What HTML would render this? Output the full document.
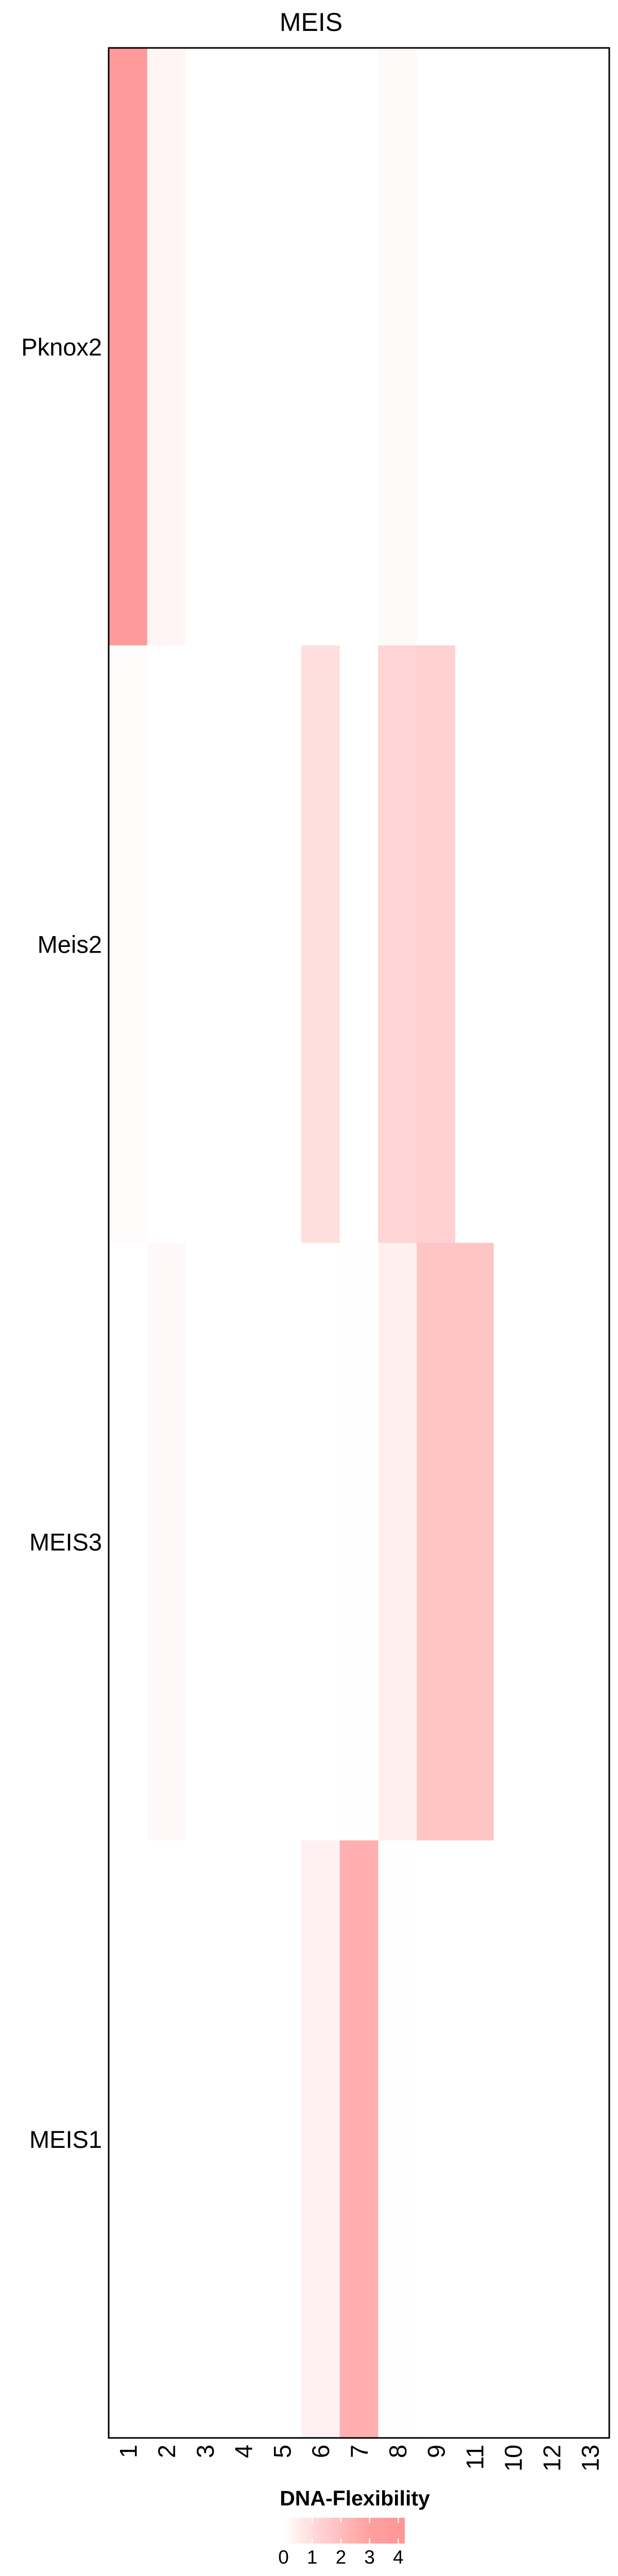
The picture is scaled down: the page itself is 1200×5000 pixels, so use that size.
<!DOCTYPE html>
<html><head><meta charset="utf-8"><style>
html,body{margin:0;padding:0;background:#fff;}
svg{display:block;font-family:"Liberation Sans",sans-serif;}
</style></head><body>
<svg id="chart" width="1200" height="5000" viewBox="0 0 1200 5000" xmlns="http://www.w3.org/2000/svg">
<defs>
<linearGradient id="cbar" x1="0" x2="1" y1="0" y2="0">
<stop offset="0" stop-color="#ffffff"/>
<stop offset="0.23" stop-color="#ffdcdc"/>
<stop offset="0.47" stop-color="#ffbdbd"/>
<stop offset="0.71" stop-color="#ffa0a0"/>
<stop offset="1" stop-color="#ff9696"/>
</linearGradient>
</defs>
<text x="604" y="60" font-size="50" text-anchor="middle" fill="#000">MEIS</text>
<g id="cells"></g>
<g id="ylabels"></g>
<g id="xlabels"></g>
<rect x="211" y="93" width="972" height="4639" fill="none" stroke="#000" stroke-width="3"/>
<g>
<text x="689" y="4863" font-size="41" font-weight="bold" text-anchor="middle">DNA-Flexibility</text>
<rect x="552" y="4887" width="234" height="50" fill="url(#cbar)"/>
<g id="legendticks"></g>
</g>
</svg>
<script>
const columns = ["1","2","3","4","5","6","7","8","9","11","10","12","13"];
const rows = ["Pknox2","Meis2","MEIS3","MEIS1"];
const valPknox2 = [3.7,0.3,0,0,0,0,0,0.15,0,0,0,0,0];
const valMeis2  = [0.12,0,0,0,0,1.0,0,1.3,1.45,0,0,0,0];
const valMEIS3  = [0,0.2,0,0,0,0,0.03,0.45,1.8,1.8,0,0,0];
const valMEIS1  = [0,0,0,0,0,0.42,2.5,0.02,0,0,0,0,0];
const legendTicks = [0,1,2,3,4];

const NS="http://www.w3.org/2000/svg";
const X0=211,X1=1183,Y0=93,Y1=4732;
const cw=(X1-X0)/columns.length, rh=(Y1-Y0)/rows.length;
function xPos(i){return X0+i*cw;}
function yPos(j){return Y0+j*rh;}
const stops=[[0,255],[1,222],[2,190],[3,160],[4.24,150]];
function color(v){
  let g=255;
  for(let k=0;k<stops.length-1;k++){
    const a=stops[k],b=stops[k+1];
    if(v>=a[0]&&v<=b[0]){g=a[1]+(b[1]-a[1])*(v-a[0])/(b[0]-a[0]);break;}
    if(v>b[0])g=b[1];
  }
  g=Math.round(g);
  return "rgb(255,"+g+","+g+")";
}
const data=[valPknox2,valMeis2,valMEIS3,valMEIS1];
const cg=document.getElementById('cells');
data.forEach((row,j)=>{
  row.forEach((v,i)=>{
    const r=document.createElementNS(NS,'rect');
    r.setAttribute('x',xPos(i));r.setAttribute('y',yPos(j));
    r.setAttribute('width',cw+0.5);r.setAttribute('height',rh+0.5);
    r.setAttribute('fill',color(v));
    
    
    cg.appendChild(r);
  });
});
const yl=document.getElementById('ylabels');
rows.forEach((name,j)=>{
  const t=document.createElementNS(NS,'text');
  t.setAttribute('x',198);t.setAttribute('y',yPos(j)+rh/2+17);
  t.setAttribute('font-size',47);t.setAttribute('text-anchor','end');
  t.textContent=name;
  
  
  yl.appendChild(t);
});
const xl=document.getElementById('xlabels');
columns.forEach((c,i)=>{
  const cx=xPos(i)+cw/2+17, cy=4745;
  const t=document.createElementNS(NS,'text');
  t.setAttribute('x',cx);t.setAttribute('y',cy);
  t.setAttribute('font-size',47);t.setAttribute('text-anchor','end');
  t.setAttribute('transform','rotate(-90 '+cx+' '+cy+')');
  t.textContent=c;
  
  
  xl.appendChild(t);
});
const lt=document.getElementById('legendticks');
const L0=550.5, LU=55.7;
legendTicks.forEach(v=>{
  const x=L0+v*LU;
  if(v>0){
    [[4887,4897],[4927,4937]].forEach(p=>{
      const l=document.createElementNS(NS,'line');
      l.setAttribute('x1',x);l.setAttribute('x2',x);
      l.setAttribute('y1',p[0]);l.setAttribute('y2',p[1]);
      l.setAttribute('stroke','#fff');l.setAttribute('stroke-width',2);
      
      
      lt.appendChild(l);
    });
  }
  const t=document.createElementNS(NS,'text');
  t.setAttribute('x',x);t.setAttribute('y',4976);
  t.setAttribute('font-size',37);t.setAttribute('text-anchor','middle');
  t.textContent=v;
  
  
  lt.appendChild(t);
});
</script>
</body></html>
